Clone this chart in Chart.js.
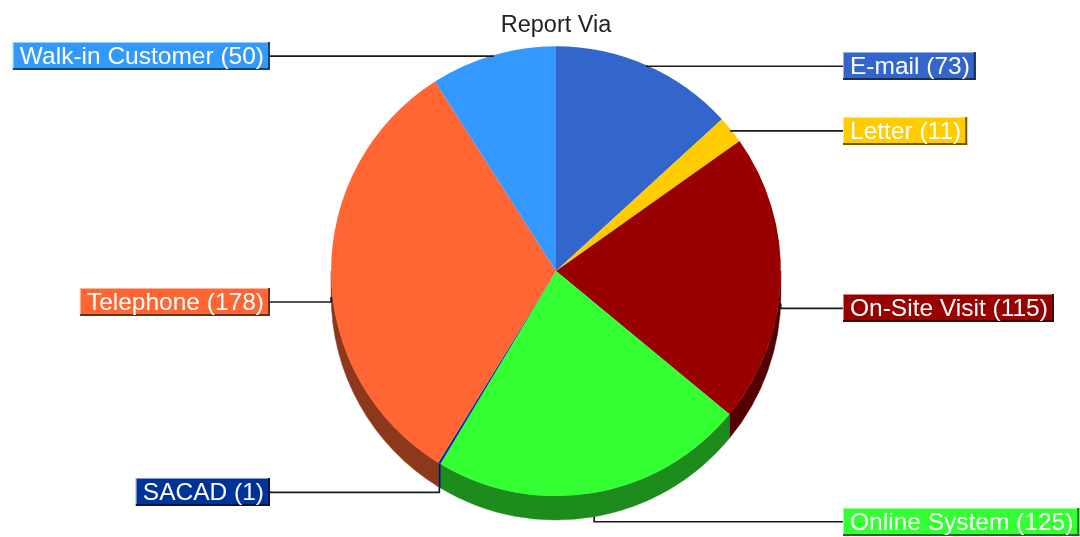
<!DOCTYPE html>
<html>
<head>
<meta charset="utf-8">
<script src="https://cdn.jsdelivr.net/npm/chart.js@4.4.1/dist/chart.umd.min.js"></script>
<style>
  html, body { margin: 0; padding: 0; background: #fff; }
  #wrap { width: 1080px; height: 537px; position: relative; }
</style>
</head>
<body>
<div id="wrap"><canvas id="pie"></canvas></div>
<script>
const categories = ['E-mail', 'Letter', 'On-Site Visit', 'Online System', 'SACAD', 'Telephone', 'Walk-in Customer'];
const counts = [73, 11, 115, 125, 1, 178, 50];
const sliceColors = ['#3366CC', '#FFCC00', '#990000', '#33FF33', '#003399', '#FF6633', '#3399FF'];

const DEPTH = 24;
const LABEL_FONT = '24.5px "Liberation Sans", Arial, sans-serif';

const shade = (hex, f, toWhite) => {
  const n = parseInt(hex.slice(1), 16);
  const ch = [(n >> 16) & 255, (n >> 8) & 255, n & 255].map(c =>
    Math.round(toWhite ? c + (255 - c) * f : c * f));
  return `rgb(${ch.join(',')})`;
};

// side wall of the pie, drawn under the top surface
const pieDepth = {
  id: 'pieDepth',
  beforeDatasetsDraw(chart) {
    const { ctx } = chart;
    const meta = chart.getDatasetMeta(0);
    ctx.save();
    meta.data.forEach((arc, i) => {
      const { x, y, startAngle, endAngle, outerRadius } =
        arc.getProps(['x', 'y', 'startAngle', 'endAngle', 'outerRadius'], true);
      const a = Math.max(startAngle, 0);
      const b = Math.min(endAngle, Math.PI);
      if (b <= a) return;
      const c = shade(sliceColors[i], 0.55);
      ctx.fillStyle = c;
      ctx.strokeStyle = c;
      ctx.lineWidth = 0.5;
      ctx.beginPath();
      ctx.arc(x, y, outerRadius, a, b);
      ctx.arc(x, y + DEPTH, outerRadius, b, a, true);
      ctx.closePath();
      ctx.fill();
      ctx.stroke();
    });
    ctx.restore();
  }
};

// boxed labels with leader lines
const pieLabels = {
  id: 'pieLabels',
  afterDatasetsDraw(chart) {
    const { ctx } = chart;
    const meta = chart.getDatasetMeta(0);
    ctx.save();
    ctx.font = LABEL_FONT;
    ctx.textBaseline = 'middle';
    meta.data.forEach((arc, i) => {
      const { x, y, startAngle, endAngle, outerRadius } =
        arc.getProps(['x', 'y', 'startAngle', 'endAngle', 'outerRadius'], true);
      const mid = (startAngle + endAngle) / 2;
      const mx = x + outerRadius * Math.cos(mid);
      const my = y + outerRadius * Math.sin(mid);
      const lower = Math.sin(mid) > 0;
      const edgeY = lower ? my + DEPTH : my;
      const ly = lower ? my + DEPTH + 5 : my + 1;
      const right = Math.cos(mid) > 0;

      const text = `${categories[i]} (${counts[i]})`;
      const tw = ctx.measureText(text).width;
      const bw = tw + 13, bh = 28;
      const bx = right ? 843 : 270 - bw;
      const by = Math.round(ly - bh / 2);

      // leader line
      ctx.strokeStyle = '#1a1a1a';
      ctx.lineWidth = 1.7;
      ctx.beginPath();
      ctx.moveTo(right ? bx : bx + bw, ly);
      ctx.lineTo(mx, ly);
      ctx.lineTo(mx, edgeY);
      ctx.stroke();

      // box with bevel
      const col = sliceColors[i];
      ctx.fillStyle = col;
      ctx.fillRect(bx, by, bw, bh);
      ctx.fillStyle = shade(col, 0.5, true);
      ctx.fillRect(bx, by, bw, 1);
      ctx.fillRect(bx, by, 1, bh);
      ctx.fillStyle = shade(col, 0.45);
      ctx.fillRect(bx, by + bh - 2, bw, 2);
      ctx.fillRect(bx + bw - 2, by, 2, bh);

      ctx.fillStyle = '#fff';
      ctx.textAlign = 'left';
      ctx.fillText(text, bx + 7, by + bh / 2 + 1);
    });
    ctx.restore();
  }
};

new Chart(document.getElementById('pie'), {
  type: 'pie',
  data: {
    labels: categories,
    datasets: [{
      data: counts,
      backgroundColor: sliceColors,
      borderWidth: 0,
    }],
  },
  options: {
    responsive: true,
    maintainAspectRatio: false,
    animation: false,
    layout: { padding: { left: 331, right: 299, top: 2, bottom: 41 } },
    plugins: {
      legend: { display: false },
      tooltip: { enabled: false },
      title: {
        display: true,
        text: 'Report Via',
        color: '#222',
        font: { family: '"Liberation Sans", Arial, sans-serif', size: 23.5, weight: 'normal' },
        padding: { top: 9, bottom: 7 },
      },
    },
  },
  plugins: [pieDepth, pieLabels],
});
</script>
</body>
</html>
